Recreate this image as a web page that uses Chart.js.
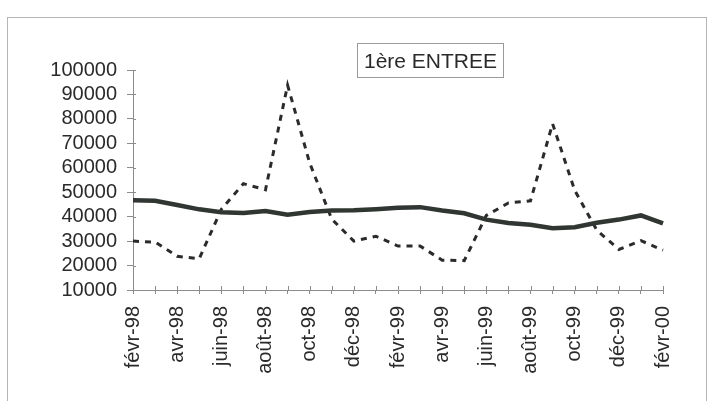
<!DOCTYPE html>
<html>
<head>
<meta charset="utf-8">
<script src="https://cdn.jsdelivr.net/npm/chart.js@4/dist/chart.umd.min.js"></script>
<style>
    html, body { margin: 0; padding: 0; background: #fff; }
    #wrap { position: relative; width: 714px; height: 401px; overflow: hidden; }
    #frame { position: absolute; left: 7px; top: 17px; width: 698px; height: 420px; border: 1px solid #b5b5b5; }
    #title {
        position: absolute; left: 357px; top: 43px; width: 145px; height: 33px;
        border: 1px solid #9a9a9a; font: 21px "Liberation Sans", Arial, sans-serif;
        color: #2a2a2a; line-height: 33px; text-align: center;
    }
    canvas { position: absolute; left: 0; top: 0; }
</style>
</head>
<body>
<div id="wrap">
    <div id="frame"></div>
    <canvas id="chart" width="714" height="401"></canvas>
    <div id="title">1ère ENTREE</div>
</div>
<script>
const months = ["févr-98", "mars-98", "avr-98", "mai-98", "juin-98", "juil-98", "août-98", "sept-98",
    "oct-98", "nov-98", "déc-98", "janv-99", "févr-99", "mars-99", "avr-99", "mai-99", "juin-99",
    "juil-99", "août-99", "sept-99", "oct-99", "nov-99", "déc-99", "janv-00", "févr-00"];

// trait plein (tendance)
const trend = [46700, 46500, 44800, 43000, 41800, 41500, 42300, 40800, 41900, 42500, 42600, 43000,
    43600, 43900, 42500, 41400, 38800, 37400, 36700, 35300, 35700, 37500, 38800, 40500, 37300];

// pointillés (1ère entrée)
const entries = [30000, 29600, 23800, 22800, 43000, 53500, 51000, 93800, 62000, 39000, 30000, 32000,
    28000, 28000, 22200, 22000, 40500, 45600, 46500, 78000, 50800, 34500, 26600, 30200, 26300];

const yMin = 10000;
const yMax = 100000;
const yStep = 10000;

const axisColor = "#8c8c8c";
const textColor = "#2a2a2a";
const font = { family: "'Liberation Sans', Arial, sans-serif", size: 20 };

// petites graduations qui traversent l'axe vers l'intérieur
const crossTicks = {
    id: "crossTicks",
    beforeDatasetsDraw(chart) {
        const { ctx, chartArea, scales } = chart;
        ctx.save();
        ctx.strokeStyle = axisColor;
        ctx.lineWidth = 1;
        ctx.beginPath();
        scales.x.ticks.forEach((t, i) => {
            const px = Math.round(scales.x.getPixelForTick(i)) + 0.5;
            ctx.moveTo(px, chartArea.bottom);
            ctx.lineTo(px, chartArea.bottom - 4);
        });
        scales.y.ticks.forEach((t, i) => {
            const py = Math.round(scales.y.getPixelForTick(i)) + 0.5;
            ctx.moveTo(chartArea.left, py);
            ctx.lineTo(chartArea.left + 3, py);
        });
        ctx.stroke();
        ctx.restore();
    }
};

new Chart(document.getElementById("chart").getContext("2d"), {
    type: "line",
    data: {
        labels: months,
        datasets: [
            {
                label: "tendance",
                data: trend,
                borderColor: "#303632",
                borderWidth: 4.5,
                pointRadius: 0,
                tension: 0,
            },
            {
                label: "1ère entrée",
                data: entries,
                borderColor: "#2b2b2b",
                borderWidth: 3,
                borderDash: [6, 6],
                pointRadius: 0,
                tension: 0,
            },
        ],
    },
    options: {
        responsive: false,
        animation: false,
        layout: { padding: { left: 0, right: 51, top: 70, bottom: 0 } },
        plugins: {
            legend: { display: false },
            tooltip: { enabled: false },
        },
        scales: {
            x: {
                offset: false,
                grid: { drawOnChartArea: false, color: axisColor, tickLength: 4 },
                border: { color: axisColor },
                ticks: {
                    autoSkip: false,
                    minRotation: 90,
                    maxRotation: 90,
                    padding: 12,
                    color: textColor,
                    font: font,
                    callback: function (value, index) {
                        return index % 2 === 0 ? this.getLabelForValue(value) : "";
                    },
                },
                afterFit: (scale) => { scale.height = 111; },
            },
            y: {
                min: yMin,
                max: yMax,
                grid: { drawOnChartArea: false, color: axisColor, tickLength: 6 },
                border: { color: axisColor },
                ticks: {
                    autoSkip: false,
                    stepSize: yStep,
                    padding: 10,
                    color: textColor,
                    font: font,
                    callback: (value) => String(value),
                },
                afterFit: (scale) => { scale.width = 133; },
            },
        },
    },
    plugins: [crossTicks],
});
</script>
</body>
</html>
